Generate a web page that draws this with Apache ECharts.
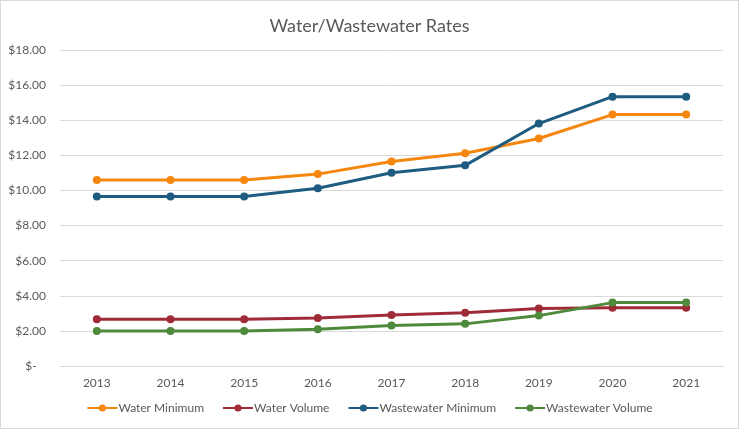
<!DOCTYPE html>
<html><head><meta charset="utf-8">
<script src="https://cdn.jsdelivr.net/npm/echarts@6/dist/echarts.min.js"></script>
<style>html,body{margin:0;padding:0;background:#fff}#c{width:739px;height:429px;box-sizing:border-box;border:1px solid #d9d9d9}</style>
</head><body><div id="c"></div>
<script>
const years = ['2013','2014','2015','2016','2017','2018','2019','2020','2021'];
const waterMinimum = [10.60, 10.60, 10.60, 10.93, 11.65, 12.12, 12.96, 14.32, 14.32];
const waterVolume = [2.66, 2.66, 2.66, 2.74, 2.91, 3.04, 3.27, 3.32, 3.32];
const wastewaterMinimum = [9.65, 9.65, 9.65, 10.12, 11.01, 11.43, 13.81, 15.34, 15.34];
const wastewaterVolume = [2.00, 2.00, 2.00, 2.10, 2.31, 2.40, 2.87, 3.61, 3.61];
const seriesNames = ['Water Minimum','Water Volume','Wastewater Minimum','Wastewater Volume'];
const colors = ['#F5870F','#A02B38','#1D5C80','#4F8A3C'];
const font = 'Lato, "Open Sans", sans-serif';
const chart = echarts.init(document.getElementById('c'));
const mk = (name, data, color) => ({
  name, type:'line', data, color,
  symbol:'circle', symbolSize:8,
  lineStyle:{width:3, color},
  itemStyle:{color},
  emphasis:{disabled:true}, animation:false
});
chart.setOption({
  animation:false,
  title:{text:'Water/Wastewater Rates', left:'center', top:11,
    textStyle:{fontFamily:font, fontSize:18, fontWeight:'normal', color:'#595959'}},
  grid:{left:59, right:15, top:49, bottom:62},
  legend:{bottom:9, left:'center', itemWidth:30, itemHeight:9, itemGap:18,
    textStyle:{fontFamily:font, fontSize:12, color:'#595959', padding:[0,0,0,-4]},
    data:seriesNames},
  xAxis:{type:'category', data:years, boundaryGap:true,
    axisLine:{lineStyle:{color:'#d9d9d9', width:1}}, axisTick:{show:false},
    axisLabel:{fontFamily:font, fontSize:12, color:'#595959', margin:11}},
  yAxis:{type:'value', min:0, max:18, interval:2,
    axisLine:{show:false}, axisTick:{show:false},
    splitLine:{lineStyle:{color:'#d9d9d9', width:1}},
    axisLabel:{fontFamily:font, fontSize:12, color:'#595959', margin:14,
      formatter:v => v===0 ? '$-   ' : '$'+v.toFixed(2)}},
  series:[
    mk(seriesNames[0], waterMinimum, colors[0]),
    mk(seriesNames[1], waterVolume, colors[1]),
    mk(seriesNames[2], wastewaterMinimum, colors[2]),
    mk(seriesNames[3], wastewaterVolume, colors[3])
  ]
});
</script></body></html>
